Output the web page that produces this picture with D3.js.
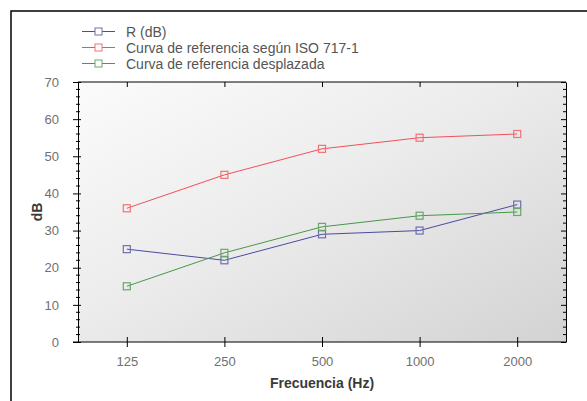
<!DOCTYPE html>
<html>
<head>
<meta charset="utf-8">
<script src="https://cdn.jsdelivr.net/npm/d3@7"></script>
<style>
  body { margin: 0; background: #fff; }
  svg { display: block; font-family: "Liberation Sans", Arial, sans-serif; }
</style>
</head>
<body>
<svg width="587" height="401"></svg>
<script>
// datos
var frecuencias = ["125", "250", "500", "1000", "2000"];
var valoresR = [25, 22, 29, 30, 37];
var valoresRef = [36, 45, 52, 55, 56];
var valoresDesp = [15, 24, 31, 34, 35];
var nombres = ["R (dB)", "Curva de referencia según ISO 717-1", "Curva de referencia desplazada"];
var colores = ["#4b4ba0", "#f2505a", "#4a964a"];
var coloresMarca = ["#6f6fb0", "#f57078", "#68a868"];
var yTicks = [0, 10, 20, 30, 40, 50, 60, 70];

var series = [valoresR, valoresRef, valoresDesp];

var svg = d3.select("svg");
var pIzq = 78, pDer = 566, pSup = 82, pInf = 342;

// marco exterior
svg.append("path")
  .attr("d", "M11,401 L11,11 L587,11")
  .attr("fill", "none")
  .attr("stroke", "#000")
  .attr("stroke-width", 1.5);

var defs = svg.append("defs");
var grad = defs.append("linearGradient")
  .attr("id", "fondo")
  .attr("x1", "0%").attr("y1", "0%")
  .attr("x2", "100%").attr("y2", "100%");
grad.append("stop").attr("offset", "0%").attr("stop-color", "#fbfbfb");
grad.append("stop").attr("offset", "45%").attr("stop-color", "#ececec");
grad.append("stop").attr("offset", "100%").attr("stop-color", "#d3d3d3");

var x = d3.scalePoint()
  .domain(frecuencias)
  .range([pIzq, pDer])
  .padding(0.5);

var y = d3.scaleLinear()
  .domain([0, 70])
  .range([pInf, pSup]);

svg.append("rect")
  .attr("x", pIzq).attr("y", pSup)
  .attr("width", pDer - pIzq).attr("height", pInf - pSup)
  .attr("fill", "url(#fondo)");

var minor = d3.range(0, 71, 2).filter(function(d){ return d % 10 != 0; });

// eje izquierdo
var ejeY = svg.append("g").attr("transform", "translate(" + pIzq + ",0)");
ejeY.call(d3.axisLeft(y).tickValues(yTicks).tickSize(5).tickSizeOuter(0).tickPadding(14));
ejeY.select(".domain").attr("stroke", "#000");
ejeY.selectAll(".tick line").attr("x2", 3).attr("x1", -5).attr("stroke", "#000");
ejeY.selectAll(".tick text").attr("fill", "#707070").attr("font-size", 13);
ejeY.selectAll("line.menor").data(minor).enter().append("line")
  .attr("class", "menor")
  .attr("x1", -2).attr("x2", 2)
  .attr("y1", function(d){ return y(d); })
  .attr("y2", function(d){ return y(d); })
  .attr("stroke", "#000");

// eje derecho
var ejeD = svg.append("g").attr("transform", "translate(" + pDer + ",0)");
ejeD.call(d3.axisLeft(y).tickValues(yTicks).tickSize(5).tickSizeOuter(0).tickFormat(""));
ejeD.select(".domain").attr("stroke", "#000");
ejeD.selectAll(".tick line").attr("stroke", "#000");
ejeD.selectAll("line.menor").data(minor).enter().append("line")
  .attr("class", "menor")
  .attr("x1", -3).attr("x2", 0)
  .attr("y1", function(d){ return y(d); })
  .attr("y2", function(d){ return y(d); })
  .attr("stroke", "#000");

// eje superior
var ejeS = svg.append("g").attr("transform", "translate(0," + pSup + ")");
ejeS.call(d3.axisBottom(x).tickSize(5).tickSizeOuter(0).tickFormat(""));
ejeS.select(".domain").attr("stroke", "#000").attr("d", "M" + pIzq + ",0H" + pDer);
ejeS.selectAll(".tick line").attr("stroke", "#000");

// eje inferior
var ejeX = svg.append("g").attr("transform", "translate(0," + pInf + ")");
ejeX.call(d3.axisBottom(x).tickSize(5).tickSizeOuter(0).tickPadding(10));
ejeX.select(".domain").attr("stroke", "#000").attr("d", "M" + (pIzq - 5) + ",0H" + pDer);
ejeX.selectAll(".tick line").attr("y1", -5).attr("stroke", "#000");
ejeX.selectAll(".tick text").attr("fill", "#707070").attr("font-size", 13);

// titulos
svg.append("text")
  .attr("x", (pIzq + pDer) / 2).attr("y", 388)
  .attr("text-anchor", "middle")
  .attr("font-size", 14).attr("font-weight", "bold").attr("fill", "#3a3a3a")
  .text("Frecuencia (Hz)");
svg.append("text")
  .attr("transform", "translate(42," + ((pSup + pInf) / 2) + ") rotate(-90)")
  .attr("text-anchor", "middle")
  .attr("font-size", 14).attr("font-weight", "bold").attr("fill", "#3a3a3a")
  .text("dB");

// lineas y marcas
var linea = d3.line()
  .x(function(d, i){ return x(frecuencias[i]); })
  .y(function(d){ return y(d); });

series.forEach(function(s, k) {
  svg.append("path")
    .attr("d", linea(s))
    .attr("fill", "none")
    .attr("stroke", colores[k])
    .attr("stroke-width", 1);
  svg.selectAll("rect.m" + k).data(s).enter().append("rect")
    .attr("class", "m" + k)
    .attr("x", function(d, i){ return x(frecuencias[i]) - 3.5; })
    .attr("y", function(d){ return y(d) - 3.5; })
    .attr("width", 7).attr("height", 7)
    .attr("fill", "none")
    .attr("stroke", coloresMarca[k])
    .attr("stroke-width", 1.2);
});

// leyenda
var leyenda = svg.selectAll("g.ley").data(nombres).enter().append("g")
  .attr("class", "ley")
  .attr("transform", function(d, i){ return "translate(82," + (31.5 + i * 16) + ")"; });
leyenda.append("line")
  .attr("x1", 0).attr("x2", 33)
  .attr("stroke", function(d, i){ return colores[i]; });
leyenda.append("rect")
  .attr("x", 13).attr("y", -3.5).attr("width", 7).attr("height", 7)
  .attr("fill", "#fff")
  .attr("stroke", function(d, i){ return coloresMarca[i]; });
leyenda.append("text")
  .attr("x", 44).attr("y", 5)
  .attr("font-size", 14).attr("fill", "#555")
  .text(function(d){ return d; });
</script>
</body>
</html>
